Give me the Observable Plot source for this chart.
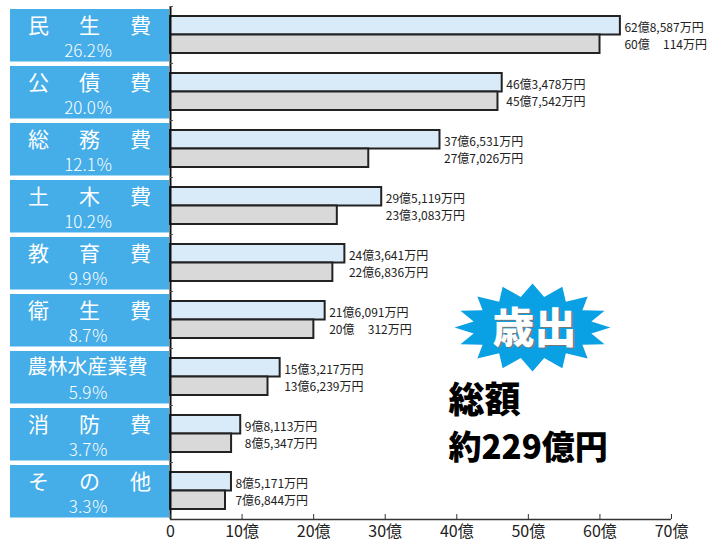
<!DOCTYPE html>
<html><head><meta charset="utf-8">
<script src="https://cdn.jsdelivr.net/npm/d3@7"></script>
<script src="https://cdn.jsdelivr.net/npm/@observablehq/plot@0.6"></script>
<style>
body{margin:0;background:#fff;}
</style></head><body><div id="chart"></div>
<script>
const categories = ["民生費","公債費","総務費","土木費","教育費","衛生費","農林水産業費","消防費","その他"];
const shares = ["26.2％","20.0％","12.1％","10.2％","9.9％","8.7％","5.9％","3.7％","3.3％"];
// 億円
const current = [62.8587, 46.3478, 37.6531, 29.5119, 24.3641, 21.6091, 15.3217, 9.8113, 8.5171];
const previous = [60.0114, 45.7542, 27.7026, 23.3083, 22.6836, 20.0312, 13.6239, 8.5347, 7.6844];
const currentLabels = ["62億8,587万円","46億3,478万円","37億6,531万円","29億5,119万円","24億3,641万円","21億6,091万円","15億3,217万円","9億8,113万円","8億5,171万円"];
const previousLabels = ["60億\u2007\u2007114万円","45億7,542万円","27億7,026万円","23億3,083万円","22億6,836万円","20億\u2007\u2007312万円","13億6,239万円","8億5,347万円","7億6,844万円"];
const xTicks = [0, 10, 20, 30, 40, 50, 60, 70];
const burstTitle = "歳出";
const totalLines = ["総額", "約229億円"];

const rows = categories.map((c, i) => ({
  cat: c, share: shares[i], cur: current[i], prev: previous[i],
  curLabel: currentLabels[i], prevLabel: previousLabels[i]
}));
const short = rows.filter(d => d.cat.length === 3);
const long = rows.filter(d => d.cat.length !== 3);

const star = {
  draw(ctx) {
    const n = 16, ro = [78, 44], ri = [60, 31];
    for (let i = 0; i < 2 * n; i++) {
      const a = Math.PI * i / n;
      const r = i % 2 ? ri : ro;
      const x = r[0] * Math.cos(a), y = r[1] * Math.sin(a);
      i ? ctx.lineTo(x, y) : ctx.moveTo(x, y);
    }
    ctx.closePath();
  }
};

const boxBlue = "#45ade8";
const font = "'Noto Sans CJK JP', 'Noto Sans', sans-serif";

const chart = Plot.plot({
  width: 721, height: 542,
  marginLeft: 170, marginRight: 50, marginTop: 6, marginBottom: 23,
  style: {fontFamily: font, fontSize: "12px", color: "#222", background: "#fff"},
  x: {domain: [0, 70], axis: null},
  y: {domain: categories, padding: 0, axis: null},
  marks: [
    // label boxes in left margin
    Plot.barX(rows, {y: "cat", x1: 0, x2: 0, insetLeft: -160, insetRight: 1, insetTop: 3, insetBottom: 1.5, fill: boxBlue}),
    // bars
    Plot.barX(rows, {y: "cat", x: "cur", insetTop: 10, insetBottom: 28.5, fill: "#d9ebf9", stroke: "#222", strokeWidth: 2}),
    Plot.barX(rows, {y: "cat", x: "prev", insetTop: 28.5, insetBottom: 10, fill: "#d9d9d9", stroke: "#222", strokeWidth: 2}),
    // axes lines
    Plot.ruleX([0], {stroke: "#111", strokeWidth: 2}),
    Plot.ruleY(rows, {y: "cat", dy: -28.5, x1: 0, x2: 0, insetRight: -3, stroke: "#555"}),
    Plot.ruleY([categories[categories.length - 1]], {dy: 28.5, stroke: "#333", strokeWidth: 1.5}),
    Plot.axisX({ticks: xTicks, tickSize: 5, dy: -5, tickFormat: () => "", stroke: "#333"}),
    Plot.axisX({ticks: xTicks, tickSize: 0, tickPadding: 6, fontSize: 16, fill: "#222",
      tickFormat: d => d === 0 ? "0" : d + "億"}),
    // category names
    Plot.text(short, {y: "cat", x: 0, text: d => d.cat[0], dx: -132, dy: -8.5, fill: "white", fontSize: 21}),
    Plot.text(short, {y: "cat", x: 0, text: d => d.cat[1], dx: -81, dy: -8.5, fill: "white", fontSize: 21}),
    Plot.text(short, {y: "cat", x: 0, text: d => d.cat[2], dx: -30, dy: -8.5, fill: "white", fontSize: 21}),
    Plot.text(long, {y: "cat", x: 0, text: "cat", dx: -83, dy: -9.5, fill: "white", fontSize: 20}),
    Plot.text(rows, {y: "cat", x: 0, text: "share", dx: -82, dy: 16.5, fill: "white", fontSize: 17, fontWeight: 300}),
    // value labels
    Plot.text(rows, {y: "cat", x: d => Math.max(d.cur, d.prev), text: "curLabel", textAnchor: "start", dx: 4, dy: -6.5, fill: "#222"}),
    Plot.text(rows, {y: "cat", x: d => Math.max(d.cur, d.prev), text: "prevLabel", textAnchor: "start", dx: 4, dy: 10.5, fill: "#222"}),
    // annotation
    Plot.dot([burstTitle], {frameAnchor: "top-left", dx: 362, dy: 321, symbol: star, r: 10, fill: "#0aa0e4", stroke: "none"}),
    Plot.text([burstTitle], {frameAnchor: "top-left", textAnchor: "middle", lineAnchor: "middle", dx: 365.5, dy: 324.5, fontSize: 42, fontWeight: 900, fill: "#777"}),
    Plot.text([burstTitle], {frameAnchor: "top-left", textAnchor: "middle", lineAnchor: "middle", dx: 364, dy: 323, fontSize: 42, fontWeight: 900, fill: "white"}),
    Plot.text([totalLines[0]], {frameAnchor: "top-left", textAnchor: "start", lineAnchor: "middle", dx: 278, dy: 395, fontSize: 36, fontWeight: 900, fill: "#000"}),
    Plot.text([totalLines[1]], {frameAnchor: "top-left", textAnchor: "start", lineAnchor: "middle", dx: 278, dy: 442, fontSize: 33, fontWeight: 900, fill: "#000"})
  ]
});
document.getElementById("chart").appendChild(chart);
</script></body></html>
